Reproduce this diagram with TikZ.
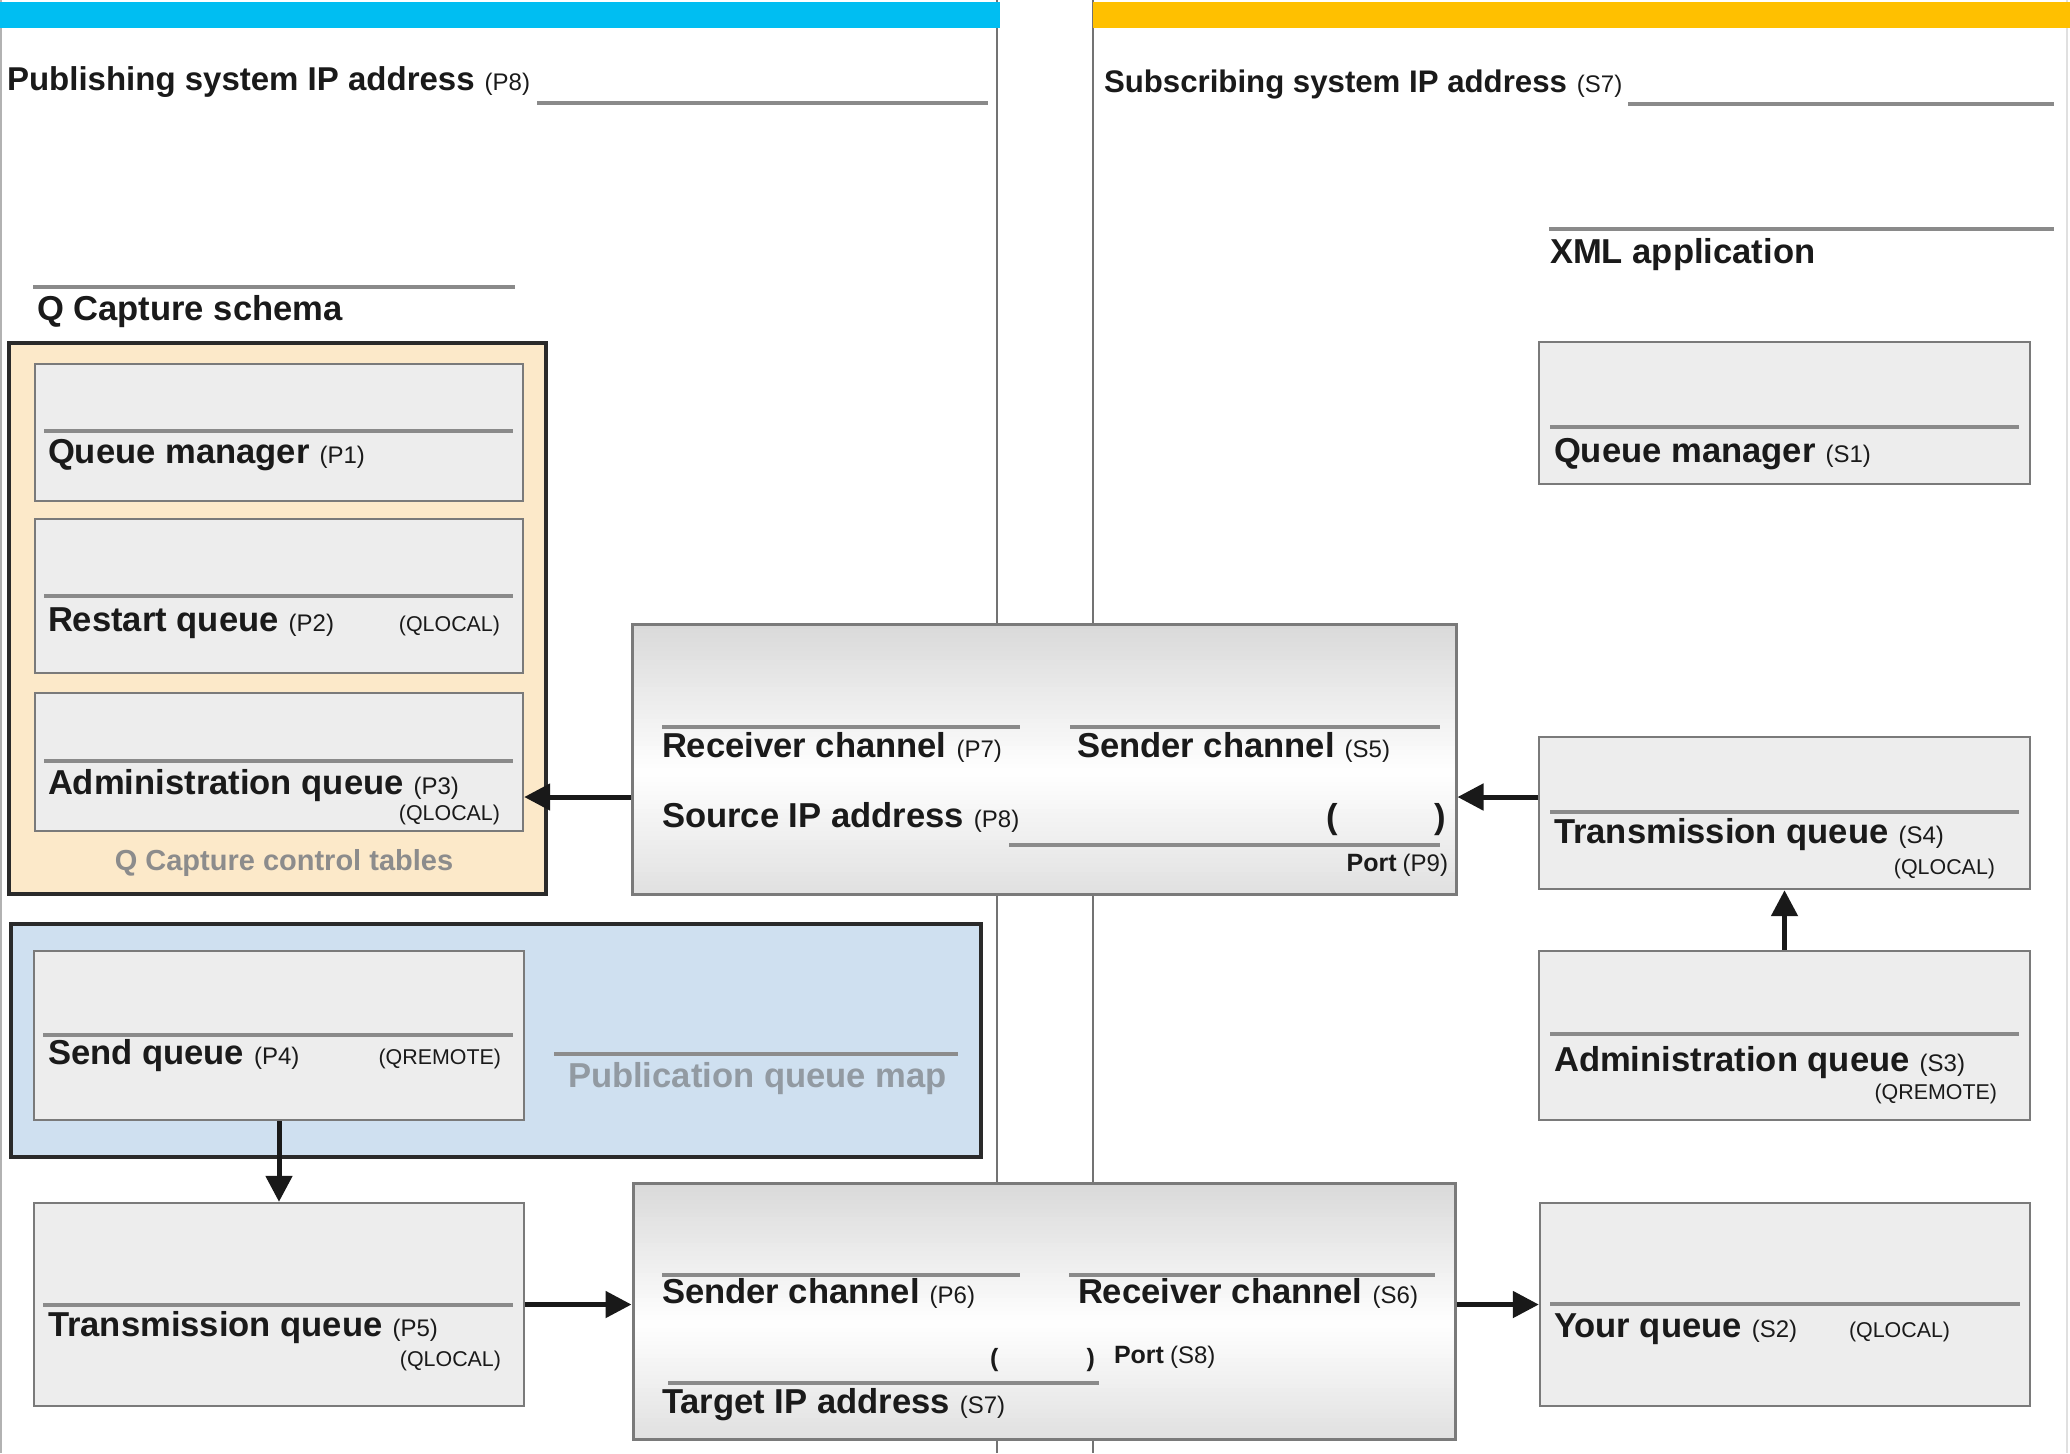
\documentclass[tikz,border=0pt]{standalone}
\usepackage{fontspec}
\setmainfont{Liberation Sans}
\usetikzlibrary{arrows.meta,fit}
\definecolor{barblue}{HTML}{00BEF2}
\definecolor{barorange}{HTML}{FFC000}
\definecolor{peach}{HTML}{FCE9C9}
\definecolor{paleblue}{HTML}{CFE0F0}
\definecolor{boxfill}{HTML}{EDEDED}
\definecolor{boxedge}{HTML}{7A7A7A}
\definecolor{ruleg}{HTML}{8A8A8A}
\definecolor{frame}{HTML}{2A2A2A}
\definecolor{ink}{HTML}{1A1A1A}
\definecolor{capgray}{HTML}{8C8C8C}
\definecolor{mapgray}{HTML}{929AA2}
\newcommand\lblbig{\fontsize{17.3pt}{20pt}\selectfont\bfseries}
\newcommand\lblhead{\fontsize{16.5pt}{19pt}\selectfont\bfseries}
\newcommand\lblheadb{\fontsize{15.6pt}{18pt}\selectfont\bfseries}
\newcommand\lblsmall{\fontsize{12pt}{14pt}\selectfont\mdseries}
\newcommand\lbltype{\fontsize{10.7pt}{13pt}\selectfont\mdseries}
\newcommand\lblport{\fontsize{12.5pt}{15pt}\selectfont\bfseries}
\newcommand\lblcap{\fontsize{14.5pt}{17pt}\selectfont\bfseries}
\newcommand\idgap{\hspace{5pt}}
% vertical gradient made of thin strips: grey top -> white -> light grey bottom
\newcommand\chanfill[4]{%
  \foreach \chI in {0,...,59}{%
    \pgfmathsetmacro\chT{(\chI+0.5)/60}%
    \pgfmathsetmacro\chG{\chT<0.55 ? 15*(1-\chT/0.55) : 12*(\chT-0.55)/0.45}%
    \pgfmathsetmacro\chYa{#2+(#4-#2)*\chI/60}%
    \pgfmathsetmacro\chYb{#2+(#4-#2)*(\chI+1)/60+0.6}%
    \fill[black!\chG] (#1,\chYa) rectangle (#3,\chYb);
  }}
\tikzset{
  qbox/.style={draw=boxedge, fill=boxfill, line width=1.2pt, inner sep=0pt},
  chanbox/.style={draw=boxedge, line width=1.5pt, inner sep=0pt},
  groupbox/.style={draw=frame, line width=2.2pt, inner sep=0pt},
  rulel/.style={draw=ruleg, line width=1.6pt},
  divider/.style={draw=black!55, line width=1pt},
  txt/.style={inner sep=0pt, outer sep=0pt, text=ink, anchor=base west},
  txtr/.style={inner sep=0pt, outer sep=0pt, text=ink, anchor=base east},
  arr/.style={draw=black!90, line width=2.5pt, -{Triangle[length=13pt,width=13pt]}},
}
\begin{document}
\begin{tikzpicture}[x=0.5pt,y=-0.5pt]
\useasboundingbox (0,0) rectangle (2070,1453);
\fill[white] (0,0) rectangle (2070,1453);
% dividers
\coordinate (dlt) at (997,0);
\coordinate (dlb) at (997,1453);
\coordinate (drt) at (1093,0);
\coordinate (drb) at (1093,1453);
\draw[divider] (dlt) -- (dlb);
\draw[divider] (drt) -- (drb);
\draw[black!30, line width=1pt] (0.5,0) -- (0.5,1453);
\draw[black!12, line width=1pt] (2067,0) -- (2067,1453);
% top bars
\fill[barblue] (0,2) rectangle (1000,28);
\fill[barorange] (1093,2) rectangle (2070,28);
% headers
\node[txt] (pubip) at (7,90) {\lblhead Publishing system IP address\idgap\lblsmall(P8)};
\draw[rulel] (537,103) -- (988,103);
\node[txt] (subip) at (1104,92) {\lblheadb Subscribing system IP address\idgap\lblsmall(S7)};
\draw[rulel] (1628,104) -- (2054,104);
\draw[rulel] (1549,229) -- (2054,229);
\node[txt] (xml) at (1550,263) {\lblbig XML application};
\draw[rulel] (33,287) -- (515,287);
\node[txt] (qcs) at (37,320) {\lblbig Q Capture schema};
% Q Capture control tables group
\node[groupbox, fill=peach, fit={(9,343) (546,894)}] (ctl) {};
\node[qbox, fit={(35,364) (523,501)}] (p1) {};
\draw[rulel] (44,431) -- (513,431);
\node[txt] (p1t) at (48,463) {\lblbig Queue manager\idgap\lblsmall(P1)};
\node[qbox, fit={(35,519) (523,673)}] (p2) {};
\draw[rulel] (44,596) -- (513,596);
\node[txt] (p2t) at (48,631) {\lblbig Restart queue\idgap\lblsmall(P2)};
\node[txtr] (p2q) at (500,631) {\lbltype(QLOCAL)};
\node[qbox, fit={(35,693) (523,831)}] (p3) {};
\draw[rulel] (44,761) -- (513,761);
\node[txt] (p3t) at (48,794) {\lblbig Administration queue\idgap\lblsmall(P3)};
\node[txtr] (p3q) at (500,820) {\lbltype(QLOCAL)};
\node[inner sep=0pt, anchor=base, text=capgray] (ctlt) at (284,870) {\lblcap Q Capture control tables};
% publication queue map group
\node[groupbox, fill=paleblue, fit={(11,924) (981,1157)}] (pqm) {};
\node[qbox, fit={(34,951) (524,1120)}] (p4) {};
\draw[rulel] (43,1035) -- (513,1035);
\node[txt] (p4t) at (48,1064) {\lblbig Send queue\idgap\lblsmall(P4)};
\node[txtr] (p4q) at (501,1064) {\lbltype(QREMOTE)};
\draw[rulel, draw=black!45] (554,1054) -- (958,1054);
\node[txt, text=mapgray] (pqmt) at (568,1087) {\lblbig Publication queue map};
% transmission queue P5
\node[qbox, fit={(34,1203) (524,1406)}] (p5) {};
\draw[rulel] (43,1305) -- (513,1305);
\node[txt] (p5t) at (48,1336) {\lblbig Transmission queue\idgap\lblsmall(P5)};
\node[txtr] (p5q) at (501,1366) {\lbltype(QLOCAL)};
% channel gradients
\chanfill{632}{624}{1456}{894}
\chanfill{633}{1183}{1455}{1439}
% channel box 1
\node[chanbox, fit={(632,624) (1456,894)}] (ch1) {};
\draw[rulel] (662,727) -- (1020,727);
\node[txt] (ch1a) at (662,757) {\lblbig Receiver channel\idgap\lblsmall(P7)};
\draw[rulel] (1070,727) -- (1440,727);
\node[txt] (ch1b) at (1077,757) {\lblbig Sender channel\idgap\lblsmall(S5)};
\node[txt] (ch1c) at (662,827) {\lblbig Source IP address\idgap\lblsmall(P8)};
\node[txt] (ch1l) at (1326,828) {\lblbig (};
\node[txtr] (ch1r) at (1446,828) {\lblbig )};
\draw[rulel] (1009,845) -- (1440,845);
\node[txtr] (ch1p) at (1448,871) {\lblport Port\hspace{3pt}\lblsmall(P9)};
% channel box 2
\node[chanbox, fit={(633,1183) (1455,1439)}] (ch2) {};
\draw[rulel] (662,1275) -- (1020,1275);
\node[txt] (ch2a) at (662,1303) {\lblbig Sender channel\idgap\lblsmall(P6)};
\draw[rulel] (1069,1275) -- (1435,1275);
\node[txt] (ch2b) at (1078,1303) {\lblbig Receiver channel\idgap\lblsmall(S6)};
\node[txt] (ch2l) at (990,1366) {\lblport (};
\node[txtr] (ch2r) at (1095,1366) {\lblport )};
\node[txt] (ch2p) at (1114,1363) {\lblport Port\hspace{3pt}\lblsmall(S8)};
\draw[rulel] (668,1383) -- (1099,1383);
\node[txt] (ch2c) at (662,1413) {\lblbig Target IP address\idgap\lblsmall(S7)};
% subscriber side boxes
\node[qbox, fit={(1539,342) (2030,484)}] (s1) {};
\draw[rulel] (1550,427) -- (2019,427);
\node[txt] (s1t) at (1554,462) {\lblbig Queue manager\idgap\lblsmall(S1)};
\node[qbox, fit={(1539,737) (2030,889)}] (s4) {};
\draw[rulel] (1550,812) -- (2019,812);
\node[txt] (s4t) at (1554,843) {\lblbig Transmission queue\idgap\lblsmall(S4)};
\node[txtr] (s4q) at (1995,874) {\lbltype(QLOCAL)};
\node[qbox, fit={(1539,951) (2030,1120)}] (s3) {};
\draw[rulel] (1550,1034) -- (2019,1034);
\node[txt] (s3t) at (1554,1071) {\lblbig Administration queue\idgap\lblsmall(S3)};
\node[txtr] (s3q) at (1997,1099) {\lbltype(QREMOTE)};
\node[qbox, fit={(1540,1203) (2030,1406)}] (s2) {};
\draw[rulel] (1550,1304) -- (2020,1304);
\node[txt] (s2t) at (1554,1337) {\lblbig Your queue\idgap\lblsmall(S2)};
\node[txt] (s2q) at (1849,1337) {\lbltype(QLOCAL)};
% connectors
\coordinate (ya) at (0,797);
\draw[arr] (ch1.west |- ya) -- (p3.east |- ya);
\draw[arr] (s4.west |- ya) -- (ch1.east |- ya);
\draw[arr] (s3.north) -- (s4.south);
\draw[arr] (p4.south) -- (p5.north);
\draw[arr] (p5.east) -- (ch2.west |- p5.east);
\draw[arr] (ch2.east |- s2.west) -- (s2.west);
\end{tikzpicture}
\end{document}
